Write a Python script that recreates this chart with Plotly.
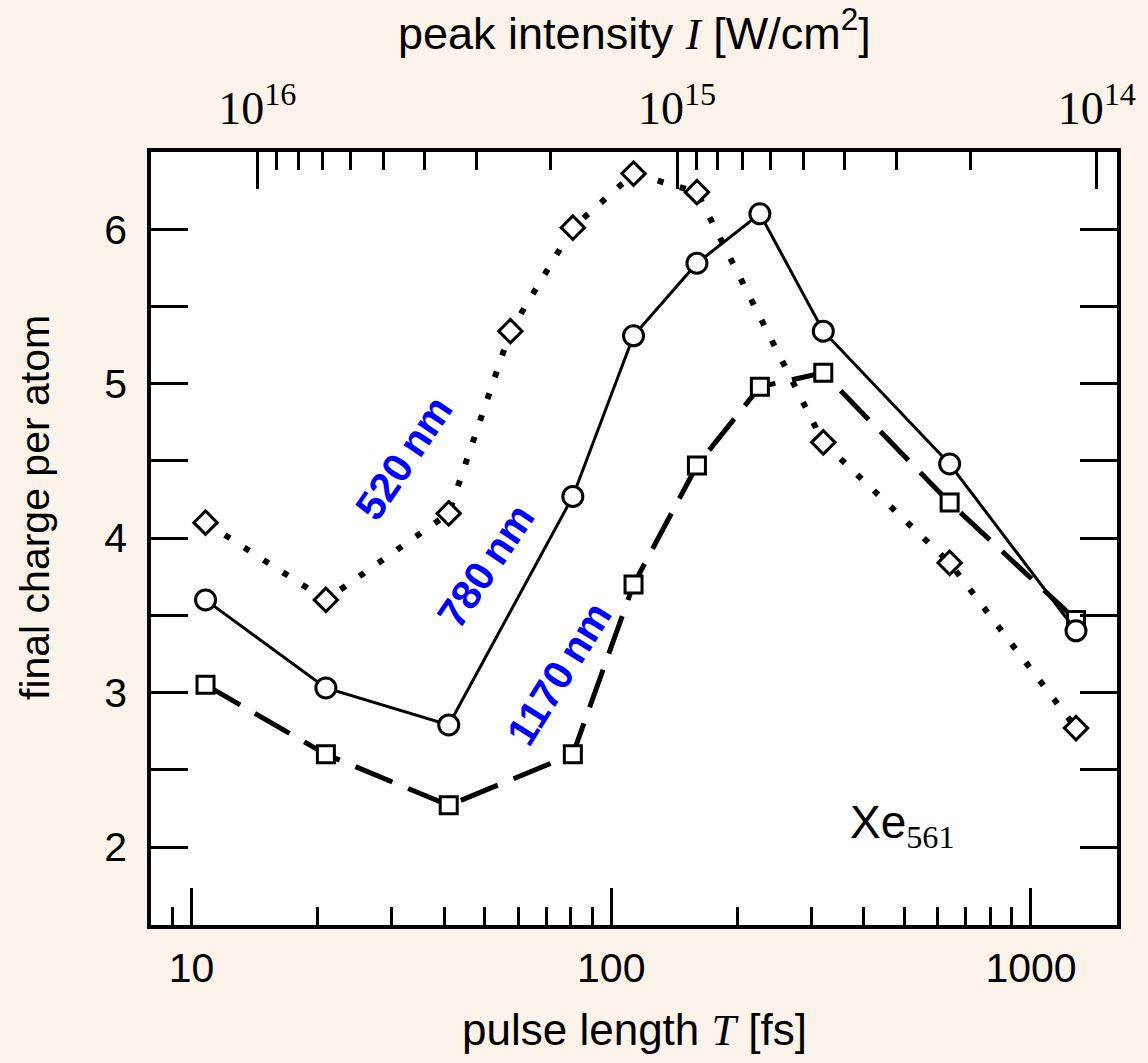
import plotly.graph_objects as go

# ---- data ----
pulse_fs = [10.8, 20.9, 41, 81, 113, 160, 226, 320, 640, 1280]
charge_780nm = [3.60, 3.03, 2.79, 4.27, 5.31, 5.78, 6.10, 5.34, 4.48, 3.40]
charge_1170nm = [3.05, 2.60, 2.27, 2.60, 3.70, 4.47, 4.98, 5.07, 4.23, 3.47]
pulse_520_fs = [10.8, 20.9, 41, 57.5, 81, 113, 160, 320, 640, 1280]
charge_520nm = [4.10, 3.60, 4.16, 5.34, 6.01, 6.36, 6.24, 4.62, 3.84, 2.77]

x_major = [10, 100, 1000]
x_major_text = ["10", "100", "1000"]
x_minor = [9, 20, 30, 40, 50, 60, 70, 80, 90, 200, 300, 400, 500, 600, 700, 800, 900]
y_major = [2, 3, 4, 5, 6]
y_minor = [2.5, 3.5, 4.5, 5.5]
i_major = [1e16, 1e15, 1e14]
i_major_text = ["10<sup>16</sup>", "10<sup>15</sup>", "10<sup>14</sup>"]
i_minor = [k * 1e15 for k in range(2, 10)] + [k * 1e14 for k in range(2, 10)]

PAPER = "#fcf4ea"
SANS = "Liberation Sans"
SERIF = "Liberation Serif"

fig = go.Figure()

fig.add_trace(go.Scatter(
    x=pulse_520_fs, y=charge_520nm, mode="lines+markers",
    line=dict(color="black", width=6, dash="6px,17px"),
    marker=dict(symbol="diamond", size=18, color="white", line=dict(color="black", width=3)),
    showlegend=False, hoverinfo="skip"))
fig.add_trace(go.Scatter(
    x=pulse_fs, y=charge_1170nm, mode="lines+markers",
    line=dict(color="black", width=5, dash="40px,17px"),
    marker=dict(symbol="square", size=17, color="white", line=dict(color="black", width=3)),
    showlegend=False, hoverinfo="skip"))
fig.add_trace(go.Scatter(
    x=pulse_fs, y=charge_780nm, mode="lines+markers",
    line=dict(color="black", width=3),
    marker=dict(symbol="circle", size=20, color="white", line=dict(color="black", width=3)),
    showlegend=False, hoverinfo="skip"))
# invisible trace to anchor the top (intensity) axis
fig.add_trace(go.Scatter(x=i_major, y=[None] * len(i_major), xaxis="x2", yaxis="y",
                         mode="markers", showlegend=False, hoverinfo="skip"))

tick_common = dict(ticks="inside", tickcolor="black", tickwidth=2.5, ticklen=37,
                   showgrid=False, zeroline=False, showline=True, linecolor="black", linewidth=3.5)

fig.update_layout(
    width=1148, height=1063,
    margin=dict(l=151, r=31, t=152, b=138),
    paper_bgcolor=PAPER, plot_bgcolor="white",
    font=dict(family=SANS, color="black", size=41),
    xaxis=dict(type="log", range=[0.9035, 3.2049], tickmode="array",
               tickvals=x_major, ticktext=x_major_text, mirror=True,
               tickfont=dict(family=SANS, size=41), ticklabelstandoff=4,
               minor=dict(tickmode="array", tickvals=x_minor, ticks="inside",
                          ticklen=18, tickwidth=2.5, tickcolor="black", showgrid=False),
               **tick_common),
    xaxis2=dict(type="log", range=[16.2533, 13.9519], overlaying="x", side="top", anchor="y",
                tickmode="array", tickvals=i_major, ticktext=i_major_text,
                tickfont=dict(family=SERIF, size=46), ticklabelstandoff=6,
                minor=dict(tickmode="array", tickvals=i_minor, ticks="inside",
                           ticklen=18, tickwidth=2.5, tickcolor="black", showgrid=False),
                **tick_common),
    yaxis=dict(range=[1.495, 6.5], tickmode="array", tickvals=y_major, mirror="allticks",
               tickfont=dict(family=SANS, size=41), ticklabelstandoff=12,
               minor=dict(tickmode="array", tickvals=y_minor, ticks="inside",
                          ticklen=18, tickwidth=2.5, tickcolor="black", showgrid=False),
               **tick_common),
)

def px_to_paper(px, py):
    return (px - 151) / 966, (925 - py) / 773

annots = [
    ("<b>520\u2009nm</b>", 404, 458, -56),
    ("<b>780\u2009nm</b>", 486, 566, -56),
    ("<b>1170\u2009nm</b>", 559, 674, -58),
]
for txt, px, py, ang in annots:
    xp, yp = px_to_paper(px, py)
    fig.add_annotation(x=xp, y=yp, xref="paper", yref="paper", text=txt, textangle=ang,
                       showarrow=False, font=dict(family=SANS, size=41, color="#0000ff"),
                       xanchor="center", yanchor="middle")

xp, yp = px_to_paper(902, 825)
fig.add_annotation(x=xp, y=yp, xref="paper", yref="paper", showarrow=False,
                   text="Xe<sub><span style='font-family:Liberation Serif'>561</span></sub>",
                   font=dict(family=SANS, size=46), xanchor="center", yanchor="middle")

xp, yp = px_to_paper(35, 508)
fig.add_annotation(x=xp, y=yp, xref="paper", yref="paper", showarrow=False, textangle=-90,
                   text="final charge per atom", font=dict(family=SANS, size=41),
                   xanchor="center", yanchor="middle")

xp, yp = px_to_paper(634, 1030)
fig.add_annotation(x=xp, y=yp, xref="paper", yref="paper", showarrow=False,
                   text="pulse length <span style='font-family:Liberation Serif'><i>T</i></span> [fs]",
                   font=dict(family=SANS, size=44), xanchor="center", yanchor="middle")

xp, yp = px_to_paper(634, 30)
fig.add_annotation(x=xp, y=yp, xref="paper", yref="paper", showarrow=False,
                   text="peak intensity <span style='font-family:Liberation Serif'><i>I</i></span> [W/cm<sup>2</sup>]",
                   font=dict(family=SANS, size=45), xanchor="center", yanchor="middle")

fig.write_html("out.html")
